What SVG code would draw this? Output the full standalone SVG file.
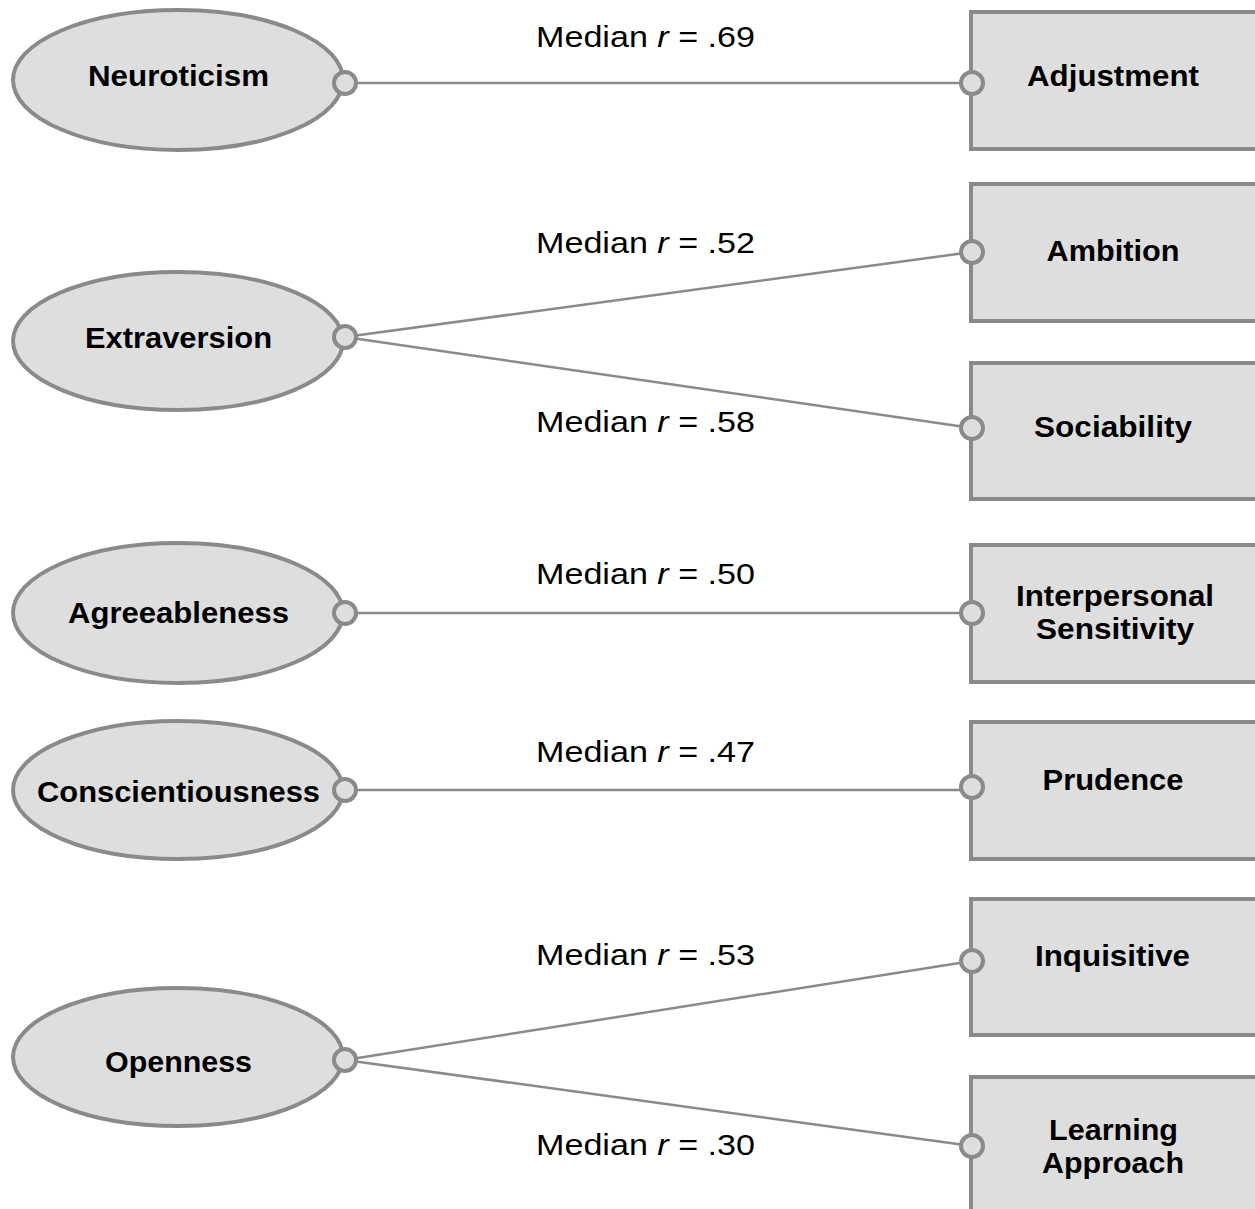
<svg xmlns="http://www.w3.org/2000/svg" width="1255" height="1209" viewBox="0 0 1255 1209">
<style>
.ell{fill:#dedede;stroke:#8a8a8a;stroke-width:4}
.box{fill:#dedede;stroke:#8a8a8a;stroke-width:4}
.dot{fill:#dedede;stroke:#8a8a8a;stroke-width:4}
.ln{stroke:#8a8a8a;stroke-width:2.5;fill:none}
.nt{font-family:"Liberation Sans",Arial,sans-serif;font-weight:bold;font-size:29px;fill:#000;text-anchor:middle}
.ml{font-family:"Liberation Sans",Arial,sans-serif;font-size:30px;fill:#000}
</style>
<rect width="1255" height="1209" fill="#fff"/>
<g id="connectors">
<line class="ln" x1="345" y1="83" x2="972" y2="83"/>
<line class="ln" x1="345" y1="337" x2="972" y2="252"/>
<line class="ln" x1="345" y1="337" x2="972" y2="428"/>
<line class="ln" x1="345" y1="613" x2="972" y2="613"/>
<line class="ln" x1="345" y1="790" x2="972" y2="790"/>
<line class="ln" x1="345" y1="1060" x2="972" y2="961"/>
<line class="ln" x1="345" y1="1060" x2="972" y2="1146"/>
<text class="ml" x="536" y="47" textLength="219" lengthAdjust="spacingAndGlyphs">Median <tspan font-style="italic">r</tspan> = .69</text>
<text class="ml" x="536" y="253" textLength="219" lengthAdjust="spacingAndGlyphs">Median <tspan font-style="italic">r</tspan> = .52</text>
<text class="ml" x="536" y="432" textLength="219" lengthAdjust="spacingAndGlyphs">Median <tspan font-style="italic">r</tspan> = .58</text>
<text class="ml" x="536" y="584" textLength="219" lengthAdjust="spacingAndGlyphs">Median <tspan font-style="italic">r</tspan> = .50</text>
<text class="ml" x="536" y="762" textLength="219" lengthAdjust="spacingAndGlyphs">Median <tspan font-style="italic">r</tspan> = .47</text>
<text class="ml" x="536" y="965" textLength="219" lengthAdjust="spacingAndGlyphs">Median <tspan font-style="italic">r</tspan> = .53</text>
<text class="ml" x="536" y="1155" textLength="219" lengthAdjust="spacingAndGlyphs">Median <tspan font-style="italic">r</tspan> = .30</text>
</g>
<g id="neuroticism"><ellipse class="ell" cx="178" cy="80" rx="165" ry="70"/><text class="nt" x="178.5" y="86" textLength="181" lengthAdjust="spacingAndGlyphs">Neuroticism</text><circle class="dot" cx="345" cy="83" r="11"/></g>
<g id="extraversion"><ellipse class="ell" cx="178" cy="341" rx="165" ry="69"/><text class="nt" x="178.5" y="348" textLength="187" lengthAdjust="spacingAndGlyphs">Extraversion</text><circle class="dot" cx="345" cy="337" r="11"/></g>
<g id="agreeableness"><ellipse class="ell" cx="178" cy="613" rx="165" ry="70"/><text class="nt" x="178.5" y="623" textLength="221" lengthAdjust="spacingAndGlyphs">Agreeableness</text><circle class="dot" cx="345" cy="613" r="11"/></g>
<g id="conscientiousness"><ellipse class="ell" cx="178" cy="790" rx="165" ry="69"/><text class="nt" x="178.5" y="802" textLength="283" lengthAdjust="spacingAndGlyphs">Conscientiousness</text><circle class="dot" cx="345" cy="790" r="11"/></g>
<g id="openness"><ellipse class="ell" cx="178" cy="1057" rx="165" ry="69"/><text class="nt" x="178.5" y="1072" textLength="147" lengthAdjust="spacingAndGlyphs">Openness</text><circle class="dot" cx="345" cy="1060" r="11"/></g>
<g id="adjustment"><rect class="box" x="971" y="12" width="300" height="137"/><text class="nt" x="1113" y="86" textLength="172" lengthAdjust="spacingAndGlyphs">Adjustment</text><circle class="dot" cx="972" cy="83" r="11"/></g>
<g id="ambition"><rect class="box" x="971" y="184" width="300" height="137"/><text class="nt" x="1113" y="261" textLength="133" lengthAdjust="spacingAndGlyphs">Ambition</text><circle class="dot" cx="972" cy="252" r="11"/></g>
<g id="sociability"><rect class="box" x="971" y="363" width="300" height="136"/><text class="nt" x="1113" y="437" textLength="158" lengthAdjust="spacingAndGlyphs">Sociability</text><circle class="dot" cx="972" cy="428" r="11"/></g>
<g id="interpersonal"><rect class="box" x="971" y="545" width="300" height="137"/><text class="nt" x="1115" y="606" textLength="198" lengthAdjust="spacingAndGlyphs">Interpersonal</text><text class="nt" x="1115" y="639" textLength="158" lengthAdjust="spacingAndGlyphs">Sensitivity</text><circle class="dot" cx="972" cy="613" r="11"/></g>
<g id="prudence"><rect class="box" x="971" y="722" width="300" height="137"/><text class="nt" x="1113" y="790" textLength="141" lengthAdjust="spacingAndGlyphs">Prudence</text><circle class="dot" cx="972" cy="787" r="11"/></g>
<g id="inquisitive"><rect class="box" x="971" y="899" width="300" height="136"/><text class="nt" x="1112.5" y="966" textLength="155" lengthAdjust="spacingAndGlyphs">Inquisitive</text><circle class="dot" cx="972" cy="961" r="11"/></g>
<g id="learning"><rect class="box" x="971" y="1077" width="300" height="160"/><text class="nt" x="1113.5" y="1140" textLength="129" lengthAdjust="spacingAndGlyphs">Learning</text><text class="nt" x="1113" y="1173" textLength="142" lengthAdjust="spacingAndGlyphs">Approach</text><circle class="dot" cx="972" cy="1146" r="11"/></g>
</svg>
